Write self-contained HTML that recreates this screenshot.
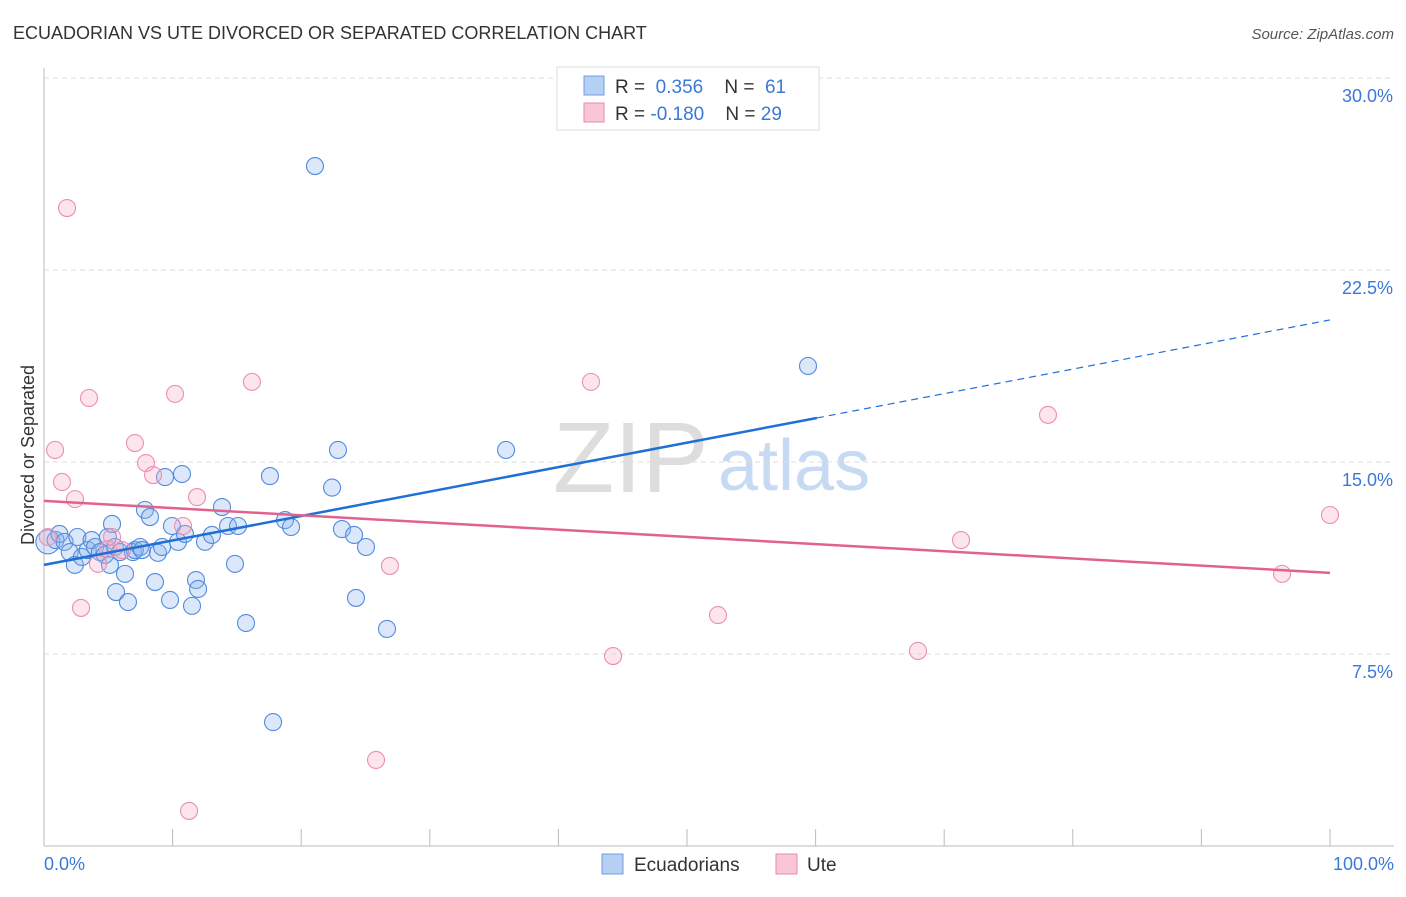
<!DOCTYPE html>
<html><head><meta charset="utf-8"><style>
body{margin:0;background:#fff;font-family:"Liberation Sans",sans-serif}
svg text{font-family:"Liberation Sans",sans-serif}
</style></head><body>
<svg id="c" width="1406" height="892" xmlns="http://www.w3.org/2000/svg">
<text x="13" y="39" font-size="18" fill="#333">ECUADORIAN VS UTE DIVORCED OR SEPARATED CORRELATION CHART</text>
<text x="1394" y="39" font-size="15" fill="#555" font-style="italic" text-anchor="end">Source: ZipAtlas.com</text>
<text x="553" y="492" font-size="100" fill="#ddd" font-family="Liberation Serif">ZIP</text>
<text x="718" y="490" font-size="72" fill="#c7daf3">atlas</text>
<g id="grid"></g>
<line x1="44" y1="68" x2="44" y2="846" stroke="#bbb"/>
<line x1="44" y1="846" x2="1394" y2="846" stroke="#bbb"/>
<text x="34" y="455" font-size="18" fill="#333" transform="rotate(-90 34 455)" text-anchor="middle">Divorced or Separated</text>
<text x="44" y="870" font-size="18" fill="#3b78d8">0.0%</text>
<text x="1394" y="870" font-size="18" fill="#3b78d8" text-anchor="end">100.0%</text>
<g id="pts"></g>
<g id="lines"></g>
<g>
<rect x="557" y="67" width="262" height="63" fill="#fff" stroke="#ddd"/>
<rect x="584" y="76" width="20" height="19" fill="#b6d0f3" stroke="#6d9de0"/>
<rect x="584" y="103" width="20" height="19" fill="#f9c6d5" stroke="#e98aa8"/>
<text x="615" y="93" font-size="19" fill="#333">R = <tspan fill="#3b78d8">&#160;0.356</tspan>&#160;&#160;&#160;&#160;N = <tspan fill="#3b78d8">&#160;61</tspan></text>
<text x="615" y="120" font-size="19" fill="#333">R = <tspan fill="#3b78d8">-0.180</tspan>&#160;&#160;&#160;&#160;N = <tspan fill="#3b78d8">29</tspan></text>
</g>
<g>
<rect x="602" y="854" width="21" height="20" fill="#b6d0f3" stroke="#6d9de0"/>
<text x="634" y="871" font-size="19" fill="#333">Ecuadorians</text>
<rect x="776" y="854" width="21" height="20" fill="#f9c6d5" stroke="#e98aa8"/>
<text x="807" y="871" font-size="19" fill="#333">Ute</text>
</g>
</svg>
<script>
const yTicks=[7.5,15,22.5,30];
const xTickCount=10;
const blueX=[0.3,0.9,1.2,1.6,2.0,2.4,2.6,2.95,3.4,3.7,3.97,4.35,4.74,4.97,5.13,5.29,5.52,5.6,5.91,6.3,6.53,6.92,7.07,7.47,7.62,7.85,8.24,8.63,8.86,9.18,9.41,9.8,9.95,10.42,10.73,10.96,11.51,11.82,11.98,12.52,13.06,13.84,14.31,14.85,15.09,15.71,17.57,17.81,18.74,19.21,21.07,22.4,22.86,23.17,24.11,24.26,25.04,26.67,35.93,59.41];
const blueY=[11.88,11.95,12.19,11.88,11.48,10.98,12.07,11.29,11.56,11.95,11.68,11.48,11.37,12.07,10.98,12.58,11.68,9.92,11.48,10.63,9.53,11.48,11.56,11.68,11.56,13.13,12.85,10.31,11.45,11.68,14.41,9.61,12.5,11.88,14.53,12.19,9.38,10.39,10.04,11.88,12.15,13.24,12.5,11.02,12.5,8.71,14.45,4.84,12.73,12.46,26.56,14.0,15.47,12.38,12.15,9.69,11.68,8.48,15.47,18.75];
const pinkX=[0.3,0.86,1.4,1.79,2.41,2.88,3.5,4.2,4.98,5.29,6.07,7.07,7.93,8.48,10.19,10.81,11.9,16.17,25.82,26.9,11.28,42.53,44.25,52.41,67.96,71.31,78.07,96.27,100];
const pinkY=[12.07,15.47,14.22,24.92,13.55,9.3,17.5,11.02,11.6,12.07,11.56,15.74,14.96,14.49,17.66,12.5,13.63,18.13,3.36,10.94,1.37,18.13,7.42,9.02,7.62,11.95,16.84,10.63,12.93];
const blueLine=[[0,10.98],[60.1,16.72],[100,20.55]];
const pinkLine=[[0,13.48],[100,10.67]];
const X=v=>44+v*12.86, Y=v=>846-v*25.6;
const NS="http://www.w3.org/2000/svg";
function mk(t,a,p){const e=document.createElementNS(NS,t);for(const k in a)e.setAttribute(k,a[k]);p.appendChild(e);return e;}
const grid=document.getElementById('grid');
yTicks.forEach(t=>{
const l=mk('line',{x1:44,x2:1394,y1:Y(t),y2:Y(t),stroke:'#ddd','stroke-dasharray':'5,4'},grid);


const tx=mk('text',{x:1393,y:Y(t)+24,'font-size':18,fill:'#3b78d8','text-anchor':'end'},grid);
tx.textContent=t.toFixed(1)+'%';


});
for(let i=1;i<=xTickCount;i++){
const l=mk('line',{x1:X(i*10),x2:X(i*10),y1:829,y2:846,stroke:'#bbb'},grid);


}
const pts=document.getElementById('pts');
blueX.forEach((x,i)=>{
const c=mk('circle',{cx:X(x),cy:Y(blueY[i]),r:i==0?12:8.5,fill:'rgba(138,180,235,0.3)',stroke:'#4f8be0','stroke-width':1.1},pts);


});
pinkX.forEach((x,i)=>{
const c=mk('circle',{cx:X(x),cy:Y(pinkY[i]),r:8.5,fill:'rgba(245,170,195,0.3)',stroke:'#ec8fae','stroke-width':1.1},pts);


});
const lines=document.getElementById('lines');
let l=mk('line',{x1:X(blueLine[0][0]),y1:Y(blueLine[0][1]),x2:X(blueLine[1][0]),y2:Y(blueLine[1][1]),stroke:'#1f6fd6','stroke-width':2.5},lines);


l=mk('line',{x1:X(blueLine[1][0]),y1:Y(blueLine[1][1]),x2:X(blueLine[2][0]),y2:Y(blueLine[2][1]),stroke:'#1f6fd6','stroke-width':1.2,'stroke-dasharray':'7,5'},lines);


l=mk('line',{x1:X(pinkLine[0][0]),y1:Y(pinkLine[0][1]),x2:X(pinkLine[1][0]),y2:Y(pinkLine[1][1]),stroke:'#e2628f','stroke-width':2.5},lines);


</script>
</body></html>
